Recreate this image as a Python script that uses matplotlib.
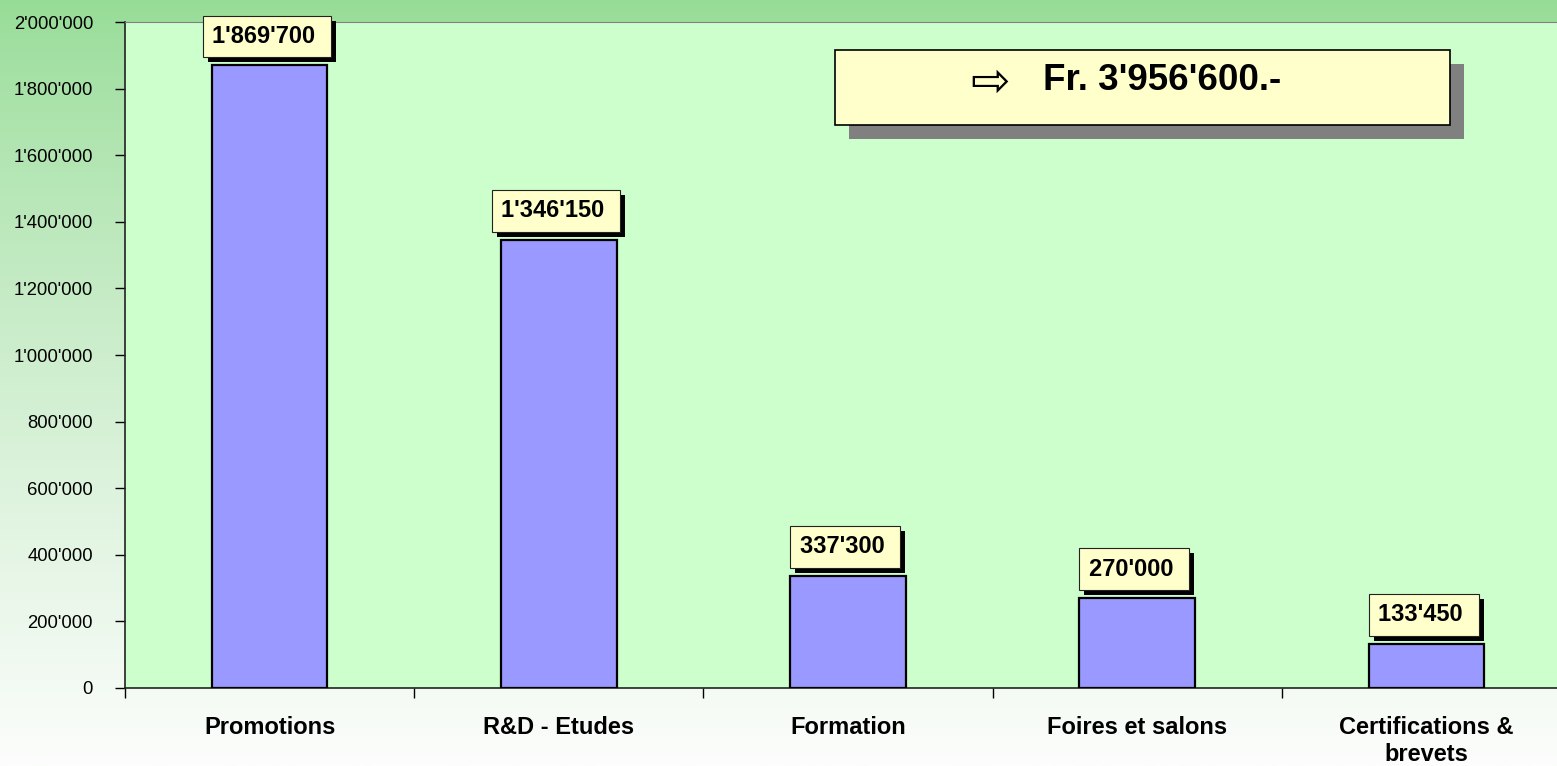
import numpy as np
import matplotlib
matplotlib.use("Agg")
import matplotlib.pyplot as plt
import matplotlib.patheffects as pe
from matplotlib.patches import Rectangle

# data
categories = ["Promotions", "R&D - Etudes", "Formation", "Foires et salons",
              "Certifications &\nbrevets"]
values = [1869700, 1346150, 337300, 270000, 133450]
total_label = "Fr. 3'956'600.-"
yticks = np.arange(0, 2000001, 200000)


def swiss(v):
    return f"{int(v):,}".replace(",", "'")


plt.rcParams['font.family'] = ['Liberation Sans', 'DejaVu Sans']

W, H = 1557, 766
fig = plt.figure(figsize=(W / 100, H / 100), dpi=100)

# background gradient: green on top fading to near white
bg = fig.add_axes([0, 0, 1, 1], zorder=-10)
t = np.linspace(0, 1, 256) ** 0.8
top = np.array([150, 220, 150]) / 255
bot = np.array([252, 253, 252]) / 255
grad = top[None, :] * (1 - t[:, None]) + bot[None, :] * t[:, None]
bg.imshow(grad[:, None, :], aspect='auto', extent=[0, 1, 0, 1], origin='upper')
bg.set_axis_off()

# plot area (runs off the right edge like the original)
ax = fig.add_axes([125 / W, 1 - 688 / H, 1446 / W, 666 / H])
ax.set_facecolor('#CCFFCC')

x = np.arange(len(categories))
ax.bar(x, values, width=0.4, color='#9999FF', edgecolor='black', linewidth=1.6, zorder=3)

ax.set_xlim(-0.5, len(categories) - 0.5)
ax.set_ylim(0, 2000000)
ax.set_yticks(yticks)
ax.set_yticklabels([swiss(v) for v in yticks], fontsize=13.3)
ax.tick_params(axis='y', direction='out', length=7, width=1, pad=16)

ax.set_xticks(x)
ax.set_xticklabels(categories, fontsize=17, fontweight='bold', linespacing=1.25)
ax.tick_params(axis='x', which='major', length=0, pad=20)
ax.set_xticks(np.arange(-0.5, len(categories), 1), minor=True)
ax.tick_params(axis='x', which='minor', direction='out', length=7, width=1)

for s in ['left', 'bottom']:
    ax.spines[s].set_color('#222222')
    ax.spines[s].set_linewidth(1.2)
ax.spines['top'].set_color('#808080')
ax.spines['right'].set_visible(False)

# value labels in yellow boxes with black shadow
for xi, v in zip(x, values):
    txt = ax.annotate(swiss(v) + " ", xy=(xi, v), xytext=(-2, 12.5),
                      textcoords='offset points', ha='center', va='bottom',
                      fontsize=17, fontweight='bold', zorder=5,
                      bbox=dict(boxstyle='square,pad=0.4', fc='#FFFFCC',
                                ec='#222222', lw=0.8))
    txt.get_bbox_patch().set_path_effects([
        pe.SimplePatchShadow(offset=(3.6, -3.6), shadow_rgbFace='black', alpha=1.0),
        pe.Normal()])

# total box
shadow = Rectangle((849 / W, 1 - 139 / H), 615 / W, 75 / H, transform=fig.transFigure,
                   fc='#808080', ec='none', zorder=6)
box = Rectangle((835 / W, 1 - 125 / H), 615 / W, 75 / H, transform=fig.transFigure,
                fc='#FFFFCC', ec='black', lw=1.2, zorder=7)
fig.add_artist(shadow)
fig.add_artist(box)
fig.text(990 / W, 1 - 83 / H, "\u21e8", ha='center', va='center', fontsize=34,
         family='DejaVu Sans', zorder=8)
fig.text(1043 / W, 1 - 81 / H, total_label, ha='left', va='center', fontsize=26.5,
         fontweight='bold', zorder=8)

fig.savefig("out.png", dpi=100)
